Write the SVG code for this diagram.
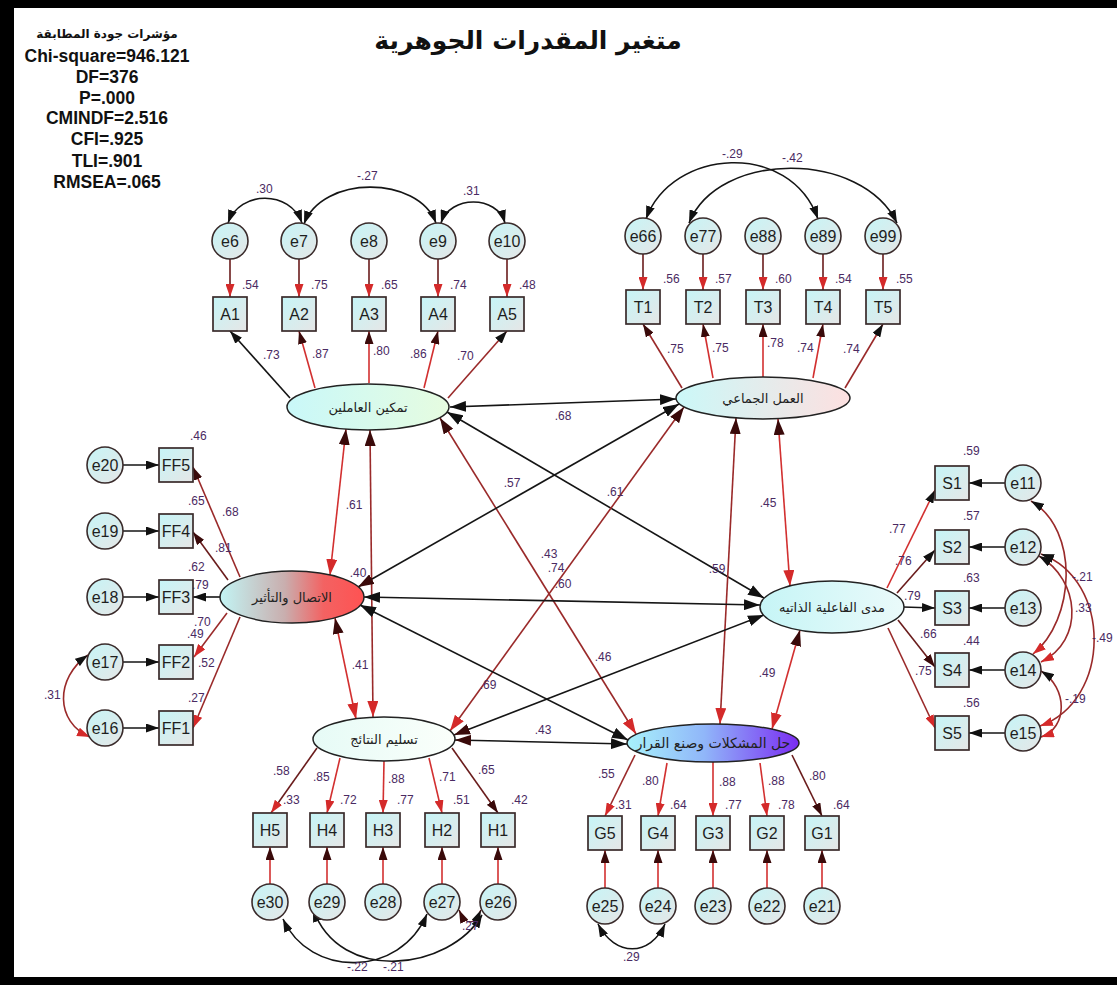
<svg xmlns="http://www.w3.org/2000/svg" width="1117" height="985" viewBox="0 0 1117 985">
<style>
.ec{fill:url(#gN);stroke:#3a2b2b;stroke-width:1.6}
.bx{fill:url(#gN);stroke:#3a2b2b;stroke-width:1.7}
.lat{stroke:#222;stroke-width:1.5}
.nt{font-family:"Liberation Sans",Arial,sans-serif;font-size:16px;fill:#1e1e1e;text-anchor:middle}
.v{font-family:"Liberation Sans",Arial,sans-serif;font-size:12px;fill:#4a2a62}
.vm{font-family:"Liberation Sans",Arial,sans-serif;font-size:12px;fill:#4a2a62;text-anchor:middle}
.ar{font-family:"DejaVu Sans","Noto Sans",sans-serif;font-size:13px;fill:#222;text-anchor:middle}
.fit{font-family:"Liberation Sans",Arial,sans-serif;font-size:17.5px;font-weight:bold;fill:#111;text-anchor:middle}
.ln{fill:none;stroke-width:1.6}
.k{stroke:#151515}
.r{stroke:#d23030}
.d{stroke:#6a1c1c}
.b{stroke:#9a2a2a}
</style>
<defs>
<linearGradient id="gN" x1="0" y1="0" x2="1" y2="1"><stop offset="0" stop-color="#c6f5f7"/><stop offset="1" stop-color="#e6e6e6"/></linearGradient>
<linearGradient id="g1" x1="0" y1="0" x2="1" y2="0"><stop offset="0" stop-color="#c9f8f9"/><stop offset="1" stop-color="#e6fce0"/></linearGradient>
<linearGradient id="g2" x1="0" y1="0" x2="1" y2="0"><stop offset="0" stop-color="#cbf8f8"/><stop offset="1" stop-color="#fde0e0"/></linearGradient>
<linearGradient id="g3" x1="0" y1="0" x2="1" y2="0"><stop offset="0" stop-color="#c2f4f4"/><stop offset="0.45" stop-color="#c9aeae"/><stop offset="0.72" stop-color="#f36262"/><stop offset="1" stop-color="#ff5252"/></linearGradient>
<linearGradient id="g4" x1="0" y1="0" x2="1" y2="0"><stop offset="0" stop-color="#c6f5f6"/><stop offset="1" stop-color="#eafafa"/></linearGradient>
<linearGradient id="g5" x1="0" y1="0" x2="1" y2="0"><stop offset="0" stop-color="#e6fbf6"/><stop offset="1" stop-color="#fbfffb"/></linearGradient>
<linearGradient id="g6" x1="0" y1="0" x2="1" y2="0"><stop offset="0" stop-color="#a8f2fb"/><stop offset="0.45" stop-color="#90b6f9"/><stop offset="1" stop-color="#7a2cf2"/></linearGradient>
<marker id="ak" viewBox="0 0 16 11" refX="16" refY="5.5" markerWidth="16" markerHeight="11" markerUnits="userSpaceOnUse" orient="auto-start-reverse"><path d="M0,0 L16,5.5 L0,11 z" fill="#111"/></marker>
<marker id="ar" viewBox="0 0 16 11" refX="16" refY="5.5" markerWidth="16" markerHeight="11" markerUnits="userSpaceOnUse" orient="auto-start-reverse"><path d="M0,0 L16,5.5 L0,11 z" fill="#d42a2a"/></marker>
<marker id="ad" viewBox="0 0 16 11" refX="16" refY="5.5" markerWidth="16" markerHeight="11" markerUnits="userSpaceOnUse" orient="auto-start-reverse"><path d="M0,0 L16,5.5 L0,11 z" fill="#3a0a0a"/></marker>
<marker id="sk" viewBox="0 0 13 9" refX="13" refY="4.5" markerWidth="13" markerHeight="9" markerUnits="userSpaceOnUse" orient="auto-start-reverse"><path d="M0,0 L13,4.5 L0,9 z" fill="#111"/></marker>
<marker id="sr" viewBox="0 0 13 9" refX="13" refY="4.5" markerWidth="13" markerHeight="9" markerUnits="userSpaceOnUse" orient="auto-start-reverse"><path d="M0,0 L13,4.5 L0,9 z" fill="#d42a2a"/></marker>
<marker id="sd" viewBox="0 0 13 9" refX="13" refY="4.5" markerWidth="13" markerHeight="9" markerUnits="userSpaceOnUse" orient="auto-start-reverse"><path d="M0,0 L13,4.5 L0,9 z" fill="#3a0a0a"/></marker>
</defs>
<rect width="1117" height="985" fill="#fff"/>
<rect x="0" y="0" width="1117" height="8" fill="#000"/>
<rect x="0" y="0" width="14" height="985" fill="#000"/>
<rect x="0" y="977" width="1117" height="8" fill="#000"/>

<g id="fit-indices">
<text x="107" y="38" class="fit" style="font-family:'DejaVu Sans',sans-serif;font-size:12px">مؤشرات جودة المطابقة</text>
<text x="107" y="62" class="fit">Chi-square=946.121</text>
<text x="107" y="83" class="fit">DF=376</text>
<text x="107" y="104" class="fit">P=.000</text>
<text x="107" y="124" class="fit">CMINDF=2.516</text>
<text x="107" y="145" class="fit">CFI=.925</text>
<text x="107" y="167" class="fit">TLI=.901</text>
<text x="107" y="188" class="fit">RMSEA=.065</text>
</g>
<g id="title"><text x="528" y="49" style="font-family:'DejaVu Sans','Noto Sans',sans-serif;font-size:25px;font-weight:bold;fill:#111;text-anchor:middle">متغير المقدرات الجوهرية</text></g>

<g id="connectors">
<path class="ln d" d="M230,259 L230,297" marker-end="url(#sr)"/>
<path class="ln d" d="M299,259 L299,297" marker-end="url(#sr)"/>
<path class="ln d" d="M369,259 L369,297" marker-end="url(#sr)"/>
<path class="ln d" d="M438,259 L438,297" marker-end="url(#sr)"/>
<path class="ln d" d="M507,259 L507,297" marker-end="url(#sr)"/>
<path class="ln k" d="M290,398 L230,331" marker-end="url(#sk)"/>
<path class="ln r" d="M315,388 L299,331" marker-end="url(#sd)"/>
<path class="ln r" d="M369,383 L369,331" marker-end="url(#sd)"/>
<path class="ln r" d="M424,388 L438,331" marker-end="url(#sd)"/>
<path class="ln b" d="M448,398 L507,331" marker-end="url(#sk)"/>
<path class="ln k" d="M228,223 C240,190 290,190 302,223" marker-start="url(#sk)" marker-end="url(#sk)"/>
<path class="ln k" d="M304,224 C322,175 418,175 436,223" marker-start="url(#sk)" marker-end="url(#sk)"/>
<path class="ln k" d="M441,223 C450,195 497,195 505,223" marker-start="url(#sk)" marker-end="url(#sk)"/>
<path class="ln d" d="M643,254 L643,290" marker-end="url(#sr)"/>
<path class="ln d" d="M703,254 L703,290" marker-end="url(#sr)"/>
<path class="ln d" d="M763,254 L763,290" marker-end="url(#sr)"/>
<path class="ln d" d="M823,254 L823,290" marker-end="url(#sr)"/>
<path class="ln d" d="M883,254 L883,290" marker-end="url(#sr)"/>
<path class="ln b" d="M682,388 L643,324" marker-end="url(#sd)"/>
<path class="ln r" d="M713,378 L703,324" marker-end="url(#sd)"/>
<path class="ln r" d="M763,377 L763,324" marker-end="url(#sd)"/>
<path class="ln r" d="M813,378 L823,324" marker-end="url(#sd)"/>
<path class="ln b" d="M845,388 L883,324" marker-end="url(#sk)"/>
<path class="ln k" d="M646,219 C672,148 790,140 818,219" marker-start="url(#sk)" marker-end="url(#sk)"/>
<path class="ln k" d="M689,223 C718,150 862,150 897,223" marker-start="url(#sk)" marker-end="url(#sk)"/>
<path class="ln k" d="M123,465 L159,465" marker-end="url(#sk)"/>
<path class="ln k" d="M123,531 L159,531" marker-end="url(#sk)"/>
<path class="ln k" d="M123,597 L159,597" marker-end="url(#sk)"/>
<path class="ln k" d="M123,662 L159,662" marker-end="url(#sk)"/>
<path class="ln k" d="M123,728 L159,728" marker-end="url(#sk)"/>
<path class="ln b" d="M240,577 L193,467" marker-end="url(#sd)"/>
<path class="ln d" d="M228,580 L193,532" marker-end="url(#sd)"/>
<path class="ln k" d="M221,597 L193,597" marker-end="url(#sk)"/>
<path class="ln b" d="M227,613 L194,657" marker-end="url(#sr)"/>
<path class="ln b" d="M240,617 L193,728" marker-end="url(#sr)"/>
<path class="ln b" d="M88,655 C55,678 55,722 90,737" marker-start="url(#sk)" marker-end="url(#sr)"/>
<path class="ln k" d="M1005,483 L969,483" marker-end="url(#sk)"/>
<path class="ln k" d="M1005,547 L969,547" marker-end="url(#sk)"/>
<path class="ln k" d="M1005,608 L969,608" marker-end="url(#sk)"/>
<path class="ln k" d="M1005,670 L969,670" marker-end="url(#sk)"/>
<path class="ln k" d="M1005,733 L969,733" marker-end="url(#sk)"/>
<path class="ln r" d="M887,588 L935,490" marker-end="url(#sk)"/>
<path class="ln d" d="M897,593 L935,550" marker-end="url(#sk)"/>
<path class="ln k" d="M903,607 L935,608" marker-end="url(#sk)"/>
<path class="ln d" d="M898,620 L935,667" marker-end="url(#sd)"/>
<path class="ln b" d="M888,628 L935,728" marker-end="url(#sr)"/>
<path class="ln b" d="M1031,501 C1080,530 1075,620 1033,654" marker-start="url(#sk)" marker-end="url(#sr)"/>
<path class="ln b" d="M1039,556 C1080,580 1085,640 1041,662" marker-start="url(#sk)" marker-end="url(#sr)"/>
<path class="ln b" d="M1041,554 C1112,580 1112,700 1040,726" marker-start="url(#sk)" marker-end="url(#sr)"/>
<path class="ln b" d="M1041,671 C1068,688 1068,728 1041,737" marker-start="url(#sk)" marker-end="url(#sr)"/>
<path class="ln r" d="M270,884 L270,847" marker-end="url(#sd)"/>
<path class="ln r" d="M327,884 L327,847" marker-end="url(#sd)"/>
<path class="ln r" d="M383,884 L383,847" marker-end="url(#sd)"/>
<path class="ln r" d="M442,884 L442,847" marker-end="url(#sd)"/>
<path class="ln r" d="M498,884 L498,847" marker-end="url(#sd)"/>
<path class="ln d" d="M317,748 L271,813" marker-end="url(#sr)"/>
<path class="ln r" d="M340,758 L327,813" marker-end="url(#sr)"/>
<path class="ln r" d="M384,761 L383,813" marker-end="url(#sr)"/>
<path class="ln r" d="M429,758 L442,813" marker-end="url(#sr)"/>
<path class="ln d" d="M452,748 L498,813" marker-end="url(#sd)"/>
<path class="ln k" d="M283,919 C310,978 400,978 427,914" marker-start="url(#sk)" marker-end="url(#sk)"/>
<path class="ln k" d="M313,909 C340,985 450,970 482,915" marker-start="url(#sk)" marker-end="url(#sk)"/>
<path class="ln d" d="M459,910 Q470,934 481,910" marker-start="url(#sd)" marker-end="url(#sk)"/>
<path class="ln r" d="M605,888 L605,850" marker-end="url(#sd)"/>
<path class="ln r" d="M658,888 L658,850" marker-end="url(#sd)"/>
<path class="ln r" d="M713,888 L713,850" marker-end="url(#sd)"/>
<path class="ln r" d="M767,888 L767,850" marker-end="url(#sd)"/>
<path class="ln r" d="M822,888 L822,850" marker-end="url(#sd)"/>
<path class="ln b" d="M635,755 L605,816" marker-end="url(#sr)"/>
<path class="ln r" d="M667,763 L658,816" marker-end="url(#sr)"/>
<path class="ln r" d="M713,762 L713,816" marker-end="url(#sr)"/>
<path class="ln r" d="M760,763 L767,816" marker-end="url(#sr)"/>
<path class="ln d" d="M792,755 L822,816" marker-end="url(#sd)"/>
<path class="ln k" d="M598,924 C615,957 650,957 665,924" marker-start="url(#sk)" marker-end="url(#sk)"/>
<path class="ln k" d="M450,407 L676,399" marker-start="url(#ak)" marker-end="url(#ak)"/>
<path class="ln r" d="M346,429 L330,575" marker-start="url(#ad)" marker-end="url(#ar)"/>
<path class="ln b" d="M370,430 L373,717" marker-start="url(#ad)" marker-end="url(#ar)"/>
<path class="ln k" d="M447,412 L764,598" marker-start="url(#ak)" marker-end="url(#ak)"/>
<path class="ln b" d="M440,418 L636,734" marker-start="url(#ad)" marker-end="url(#ar)"/>
<path class="ln k" d="M679,404 L358,587" marker-start="url(#ak)" marker-end="url(#ad)"/>
<path class="ln b" d="M684,407 L450,731" marker-start="url(#ad)" marker-end="url(#ar)"/>
<path class="ln r" d="M778,419 L790,586" marker-start="url(#ad)" marker-end="url(#ar)"/>
<path class="ln b" d="M736,418 L720,724" marker-start="url(#ad)" marker-end="url(#ar)"/>
<path class="ln k" d="M364,597 L760,605" marker-start="url(#ak)" marker-end="url(#ak)"/>
<path class="ln r" d="M335,618 L356,719" marker-start="url(#ad)" marker-end="url(#ar)"/>
<path class="ln k" d="M360,605 L628,740" marker-start="url(#ak)" marker-end="url(#ak)"/>
<path class="ln k" d="M764,615 L454,735" marker-start="url(#ak)" marker-end="url(#ad)"/>
<path class="ln r" d="M800,630 L772,729" marker-start="url(#ad)" marker-end="url(#ar)"/>
<path class="ln k" d="M455,740 L627,744" marker-start="url(#ad)" marker-end="url(#ak)"/>
</g>

<g id="labels">
<text class="v" x="256" y="193">.30</text><text class="v" x="357" y="180">-.27</text><text class="v" x="463" y="195">.31</text>
<text class="v" x="242" y="289">.54</text><text class="v" x="311" y="289">.75</text><text class="v" x="381" y="289">.65</text><text class="v" x="450" y="289">.74</text><text class="v" x="519" y="289">.48</text>
<text class="v" x="263" y="359">.73</text><text class="v" x="312" y="358">.87</text><text class="v" x="373" y="355">.80</text><text class="v" x="410" y="358">.86</text><text class="v" x="457" y="360">.70</text>
<text class="v" x="722" y="158">-.29</text><text class="v" x="782" y="162">-.42</text>
<text class="v" x="663" y="283">.56</text><text class="v" x="715" y="283">.57</text><text class="v" x="775" y="283">.60</text><text class="v" x="835" y="283">.54</text><text class="v" x="896" y="283">.55</text>
<text class="v" x="667" y="353">.75</text><text class="v" x="712" y="352">.75</text><text class="v" x="767" y="347">.78</text><text class="v" x="797" y="352">.74</text><text class="v" x="843" y="353">.74</text>
<text class="v" x="190" y="440">.46</text><text class="v" x="188" y="505">.65</text><text class="v" x="222" y="516">.68</text><text class="v" x="215" y="552">.81</text><text class="v" x="188" y="571">.62</text><text class="v" x="192" y="589">.79</text><text class="v" x="194" y="626">.70</text><text class="v" x="187" y="638">.49</text><text class="v" x="198" y="667">.52</text><text class="v" x="188" y="702">.27</text><text class="v" x="44" y="699">.31</text>
<text class="v" x="963" y="455">.59</text><text class="v" x="963" y="520">.57</text><text class="v" x="963" y="582">.63</text><text class="v" x="963" y="645">.44</text><text class="v" x="963" y="707">.56</text>
<text class="v" x="889" y="533">.77</text><text class="v" x="895" y="565">.76</text><text class="v" x="904" y="600">.79</text><text class="v" x="920" y="638">.66</text><text class="v" x="915" y="675">.75</text>
<text class="v" x="1072" y="581">-.21</text><text class="v" x="1075" y="612">.33</text><text class="v" x="1092" y="642">-.49</text><text class="v" x="1065" y="703">-.19</text>
<text class="v" x="273" y="775">.58</text><text class="v" x="313" y="781">.85</text><text class="v" x="388" y="783">.88</text><text class="v" x="439" y="781">.71</text><text class="v" x="478" y="774">.65</text>
<text class="v" x="283" y="804">.33</text><text class="v" x="340" y="804">.72</text><text class="v" x="397" y="804">.77</text><text class="v" x="453" y="804">.51</text><text class="v" x="511" y="804">.42</text>
<text class="v" x="347" y="971">-.22</text><text class="v" x="383" y="971">-.21</text><text class="v" x="462" y="930">.27</text>
<text class="v" x="598" y="778">.55</text><text class="v" x="642" y="785">.80</text><text class="v" x="719" y="786">.88</text><text class="v" x="768" y="785">.88</text><text class="v" x="809" y="780">.80</text>
<text class="v" x="615" y="809">.31</text><text class="v" x="670" y="809">.64</text><text class="v" x="725" y="809">.77</text><text class="v" x="778" y="809">.78</text><text class="v" x="833" y="809">.64</text>
<text class="v" x="623" y="961">.29</text>
<text class="vm" x="563" y="420">.68</text><text class="vm" x="512" y="487">.57</text><text class="vm" x="615" y="496">.61</text><text class="vm" x="354" y="509">.61</text><text class="vm" x="768" y="507">.45</text>
<text class="vm" x="549" y="558">.43</text><text class="vm" x="556" y="572">.74</text><text class="vm" x="563" y="588">.60</text><text class="vm" x="717" y="573">.59</text><text class="vm" x="358" y="577">.40</text>
<text class="vm" x="360" y="669">.41</text><text class="vm" x="603" y="661">.46</text><text class="vm" x="488" y="689">.69</text><text class="vm" x="767" y="677">.49</text><text class="vm" x="543" y="734">.43</text>
</g>

<g id="L1"><ellipse cx="368" cy="407" rx="81" ry="23" fill="url(#g1)" class="lat"/><text class="ar" x="368" y="412">تمكين العاملين</text></g>
<g id="L2"><ellipse cx="763" cy="398" rx="87" ry="21" fill="url(#g2)" class="lat"/><text class="ar" x="763" y="403">العمل الجماعي</text></g>
<g id="L3"><ellipse cx="292" cy="597" rx="72" ry="26" fill="url(#g3)" class="lat"/><text class="ar" x="292" y="602">الاتصال والتأثير</text></g>
<g id="L4"><ellipse cx="832" cy="607" rx="72" ry="26" fill="url(#g4)" class="lat"/><text class="ar" x="832" y="612">مدى الفاعلية الذاتيه</text></g>
<g id="L5"><ellipse cx="384" cy="739" rx="71" ry="22" fill="url(#g5)" class="lat"/><text class="ar" x="384" y="744">تسليم النتائج</text></g>
<g id="L6"><ellipse cx="713" cy="743" rx="86" ry="19" fill="url(#g6)" class="lat"/><text class="ar" x="713" y="748" style="font-size:14px">حل المشكلات وصنع القرار</text></g>

<g id="e6"><circle cx="230" cy="241" r="18" class="ec"/><text class="nt" x="230" y="247">e6</text></g>
<g id="e7"><circle cx="299" cy="241" r="18" class="ec"/><text class="nt" x="299" y="247">e7</text></g>
<g id="e8"><circle cx="369" cy="241" r="18" class="ec"/><text class="nt" x="369" y="247">e8</text></g>
<g id="e9"><circle cx="438" cy="241" r="18" class="ec"/><text class="nt" x="438" y="247">e9</text></g>
<g id="e10"><circle cx="507" cy="241" r="18" class="ec"/><text class="nt" x="507" y="247">e10</text></g>
<g id="A1"><rect x="213" y="297" width="34" height="34" class="bx"/><text class="nt" x="230" y="320">A1</text></g>
<g id="A2"><rect x="282" y="297" width="34" height="34" class="bx"/><text class="nt" x="299" y="320">A2</text></g>
<g id="A3"><rect x="352" y="297" width="34" height="34" class="bx"/><text class="nt" x="369" y="320">A3</text></g>
<g id="A4"><rect x="421" y="297" width="34" height="34" class="bx"/><text class="nt" x="438" y="320">A4</text></g>
<g id="A5"><rect x="490" y="297" width="34" height="34" class="bx"/><text class="nt" x="507" y="320">A5</text></g>

<g id="e66"><circle cx="643" cy="236" r="18" class="ec"/><text class="nt" x="643" y="242">e66</text></g>
<g id="e77"><circle cx="703" cy="236" r="18" class="ec"/><text class="nt" x="703" y="242">e77</text></g>
<g id="e88"><circle cx="763" cy="236" r="18" class="ec"/><text class="nt" x="763" y="242">e88</text></g>
<g id="e89"><circle cx="823" cy="236" r="18" class="ec"/><text class="nt" x="823" y="242">e89</text></g>
<g id="e99"><circle cx="883" cy="236" r="18" class="ec"/><text class="nt" x="883" y="242">e99</text></g>
<g id="T1"><rect x="626" y="290" width="34" height="34" class="bx"/><text class="nt" x="643" y="313">T1</text></g>
<g id="T2"><rect x="686" y="290" width="34" height="34" class="bx"/><text class="nt" x="703" y="313">T2</text></g>
<g id="T3"><rect x="746" y="290" width="34" height="34" class="bx"/><text class="nt" x="763" y="313">T3</text></g>
<g id="T4"><rect x="806" y="290" width="34" height="34" class="bx"/><text class="nt" x="823" y="313">T4</text></g>
<g id="T5"><rect x="866" y="290" width="34" height="34" class="bx"/><text class="nt" x="883" y="313">T5</text></g>

<g id="e20"><circle cx="105" cy="465" r="18" class="ec"/><text class="nt" x="105" y="471">e20</text></g>
<g id="e19"><circle cx="105" cy="531" r="18" class="ec"/><text class="nt" x="105" y="537">e19</text></g>
<g id="e18"><circle cx="105" cy="597" r="18" class="ec"/><text class="nt" x="105" y="603">e18</text></g>
<g id="e17"><circle cx="105" cy="662" r="18" class="ec"/><text class="nt" x="105" y="668">e17</text></g>
<g id="e16"><circle cx="105" cy="728" r="18" class="ec"/><text class="nt" x="105" y="734">e16</text></g>
<g id="FF5"><rect x="159" y="448" width="34" height="34" class="bx"/><text class="nt" x="176" y="471">FF5</text></g>
<g id="FF4"><rect x="159" y="514" width="34" height="34" class="bx"/><text class="nt" x="176" y="537">FF4</text></g>
<g id="FF3"><rect x="159" y="580" width="34" height="34" class="bx"/><text class="nt" x="176" y="603">FF3</text></g>
<g id="FF2"><rect x="159" y="645" width="34" height="34" class="bx"/><text class="nt" x="176" y="668">FF2</text></g>
<g id="FF1"><rect x="159" y="711" width="34" height="34" class="bx"/><text class="nt" x="176" y="734">FF1</text></g>

<g id="S1"><rect x="935" y="466" width="34" height="34" class="bx"/><text class="nt" x="952" y="489">S1</text></g>
<g id="S2"><rect x="935" y="530" width="34" height="34" class="bx"/><text class="nt" x="952" y="553">S2</text></g>
<g id="S3"><rect x="935" y="591" width="34" height="34" class="bx"/><text class="nt" x="952" y="614">S3</text></g>
<g id="S4"><rect x="935" y="653" width="34" height="34" class="bx"/><text class="nt" x="952" y="676">S4</text></g>
<g id="S5"><rect x="935" y="716" width="34" height="34" class="bx"/><text class="nt" x="952" y="739">S5</text></g>
<g id="e11"><circle cx="1023" cy="483" r="18" class="ec"/><text class="nt" x="1023" y="489">e11</text></g>
<g id="e12"><circle cx="1023" cy="547" r="18" class="ec"/><text class="nt" x="1023" y="553">e12</text></g>
<g id="e13"><circle cx="1023" cy="608" r="18" class="ec"/><text class="nt" x="1023" y="614">e13</text></g>
<g id="e14"><circle cx="1023" cy="670" r="18" class="ec"/><text class="nt" x="1023" y="676">e14</text></g>
<g id="e15"><circle cx="1023" cy="733" r="18" class="ec"/><text class="nt" x="1023" y="739">e15</text></g>

<g id="H5"><rect x="253" y="813" width="34" height="34" class="bx"/><text class="nt" x="270" y="836">H5</text></g>
<g id="H4"><rect x="310" y="813" width="34" height="34" class="bx"/><text class="nt" x="327" y="836">H4</text></g>
<g id="H3"><rect x="366" y="813" width="34" height="34" class="bx"/><text class="nt" x="383" y="836">H3</text></g>
<g id="H2"><rect x="425" y="813" width="34" height="34" class="bx"/><text class="nt" x="442" y="836">H2</text></g>
<g id="H1"><rect x="481" y="813" width="34" height="34" class="bx"/><text class="nt" x="498" y="836">H1</text></g>
<g id="e30"><circle cx="270" cy="902" r="18" class="ec"/><text class="nt" x="270" y="908">e30</text></g>
<g id="e29"><circle cx="327" cy="902" r="18" class="ec"/><text class="nt" x="327" y="908">e29</text></g>
<g id="e28"><circle cx="383" cy="902" r="18" class="ec"/><text class="nt" x="383" y="908">e28</text></g>
<g id="e27"><circle cx="442" cy="902" r="18" class="ec"/><text class="nt" x="442" y="908">e27</text></g>
<g id="e26"><circle cx="498" cy="902" r="18" class="ec"/><text class="nt" x="498" y="908">e26</text></g>

<g id="G5"><rect x="588" y="816" width="34" height="34" class="bx"/><text class="nt" x="605" y="839">G5</text></g>
<g id="G4"><rect x="641" y="816" width="34" height="34" class="bx"/><text class="nt" x="658" y="839">G4</text></g>
<g id="G3"><rect x="696" y="816" width="34" height="34" class="bx"/><text class="nt" x="713" y="839">G3</text></g>
<g id="G2"><rect x="750" y="816" width="34" height="34" class="bx"/><text class="nt" x="767" y="839">G2</text></g>
<g id="G1"><rect x="805" y="816" width="34" height="34" class="bx"/><text class="nt" x="822" y="839">G1</text></g>
<g id="e25"><circle cx="605" cy="906" r="18" class="ec"/><text class="nt" x="605" y="912">e25</text></g>
<g id="e24"><circle cx="658" cy="906" r="18" class="ec"/><text class="nt" x="658" y="912">e24</text></g>
<g id="e23"><circle cx="713" cy="906" r="18" class="ec"/><text class="nt" x="713" y="912">e23</text></g>
<g id="e22"><circle cx="767" cy="906" r="18" class="ec"/><text class="nt" x="767" y="912">e22</text></g>
<g id="e21"><circle cx="822" cy="906" r="18" class="ec"/><text class="nt" x="822" y="912">e21</text></g>
</svg>
